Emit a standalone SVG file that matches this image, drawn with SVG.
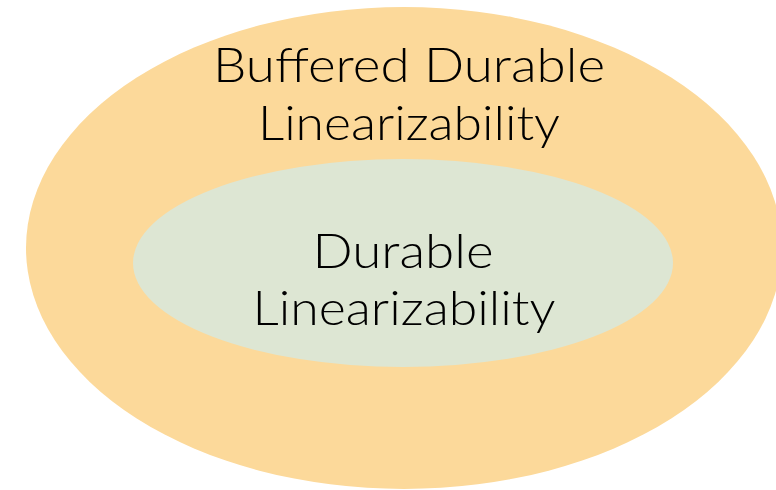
<svg xmlns="http://www.w3.org/2000/svg" width="776" height="490" viewBox="0 0 776 490">
  <style>
    .lbl { font-family: "Lato", "Liberation Sans", sans-serif; font-weight: 300; font-size: 48px; fill: #000000; text-anchor: middle; }
    .outer { fill: #FCD99A; }
    .inner { fill: #DDE6D3; }
  </style>
  <rect width="776" height="490" fill="#FFFFFF"/>
  <g id="buffered-durable-linearizability">
    <ellipse class="outer" cx="404" cy="248" rx="378" ry="241"/>
    <text class="lbl" x="409" y="82" textLength="392" lengthAdjust="spacingAndGlyphs">Buffered Durable</text>
    <text class="lbl" x="409" y="140" textLength="302" lengthAdjust="spacingAndGlyphs">Linearizability</text>
  </g>
  <g id="durable-linearizability">
    <ellipse class="inner" cx="403" cy="263" rx="270" ry="104"/>
    <text class="lbl" x="403" y="268" textLength="181" lengthAdjust="spacingAndGlyphs">Durable</text>
    <text class="lbl" x="404" y="325" textLength="303" lengthAdjust="spacingAndGlyphs">Linearizability</text>
  </g>
  <g id="connectors"/>
</svg>
